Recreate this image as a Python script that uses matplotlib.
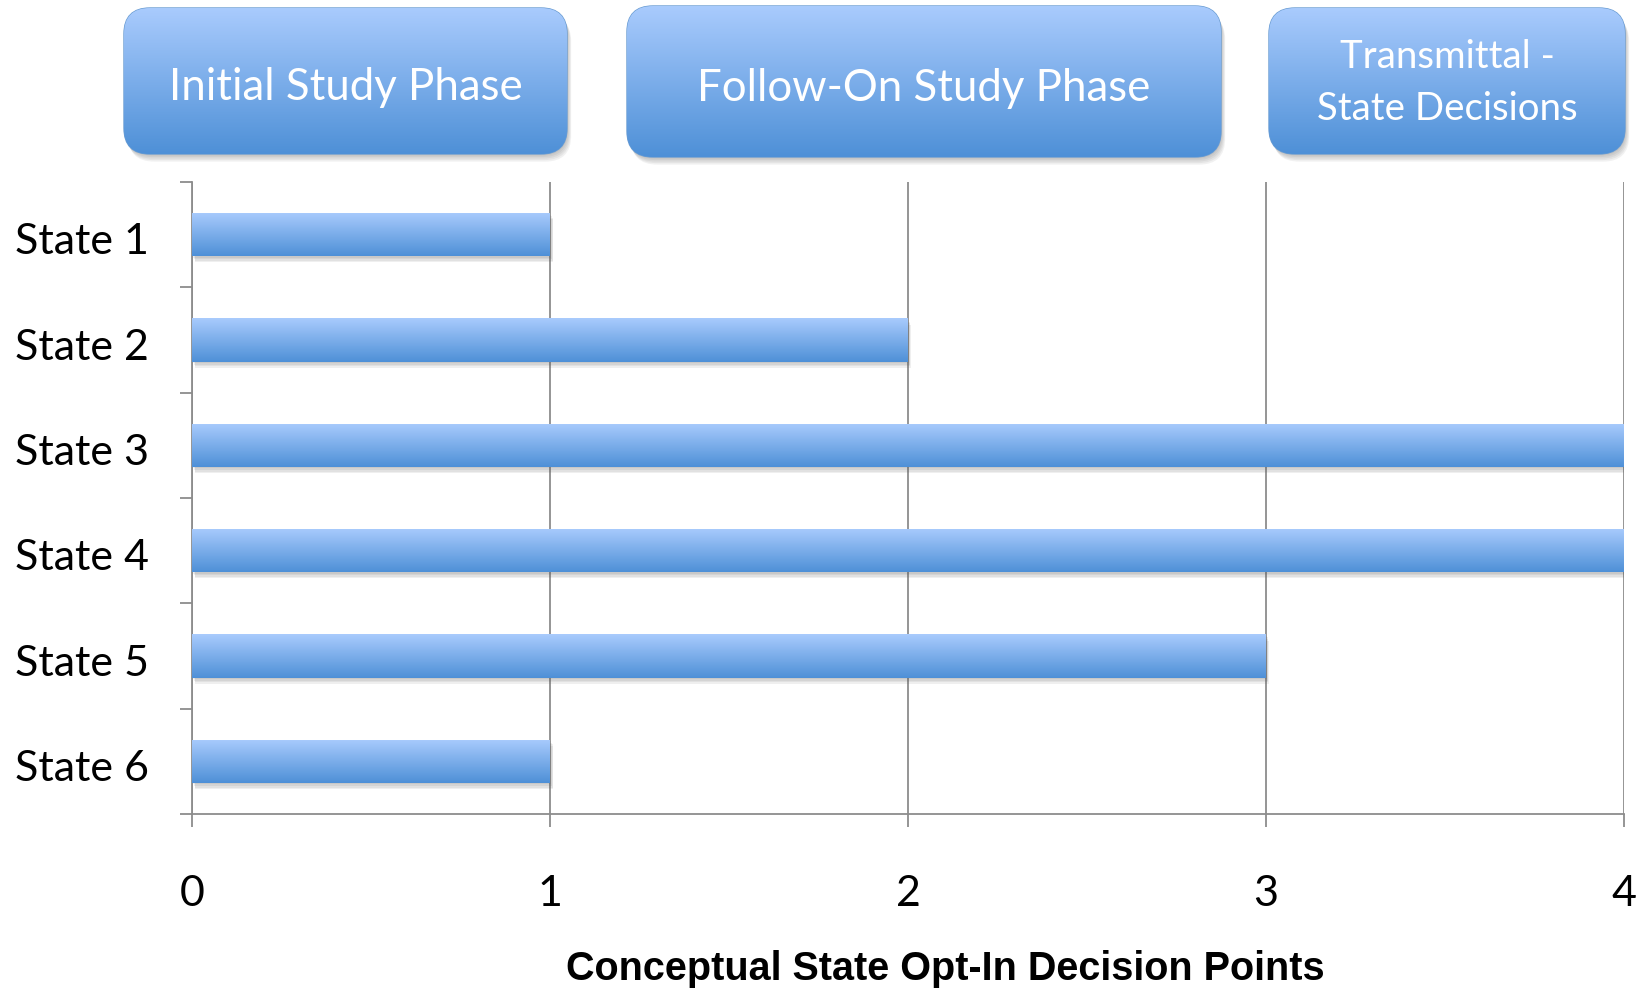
import numpy as np
import matplotlib.pyplot as plt
from matplotlib.colors import LinearSegmentedColormap
from matplotlib.patches import FancyBboxPatch
from matplotlib.transforms import ScaledTranslation
import matplotlib.patheffects as pe

# data
states = ["State 1", "State 2", "State 3", "State 4", "State 5", "State 6"]
decision_points = [1, 2, 4, 4, 3, 1]
x_ticks = [0, 1, 2, 3, 4]
x_label = "Conceptual State Opt-In Decision Points"
phases = ["Initial Study Phase", "Follow-On Study Phase", "Transmittal -\nState Decisions"]

# dark -> light
blues = LinearSegmentedColormap.from_list("blues", ["#4e90d7", "#a9cbfd"])
grad = np.linspace(1, 0, 256).reshape(-1, 1)


def soft_shadow(n, alpha):
    # a few stacked shadows give a blurred look
    effects = [pe.SimplePatchShadow(offset=(0.6 * k, -1.1 * k), shadow_rgbFace="#555555", alpha=alpha)
               for k in range(n, 0, -1)]
    return effects + [pe.Normal()]


fig = plt.figure(figsize=(16.44, 9.91), dpi=100)
ax = fig.add_axes([0.1168, 0.1786, 0.8710, 0.6377])

y = np.arange(len(states))
bh = 0.41
bars = ax.barh(y, decision_points, height=bh, color="#7aaee8", linewidth=0, zorder=3)
for b in bars:
    b.set_path_effects(soft_shadow(4, 0.09))
    x0, y0 = b.get_x(), b.get_y()
    im = ax.imshow(grad, cmap=blues, vmin=0, vmax=1, aspect="auto", origin="upper",
                   extent=(x0, x0 + b.get_width(), y0 + bh, y0), zorder=4,
                   interpolation="bilinear")
    im.set_clip_path(b)

ax.set_xlim(0, 4)
ax.set_ylim(len(states) - 0.5, -0.5)
ax.set_yticks(y)
ax.set_yticklabels(states)
ax.set_yticks(np.arange(len(states) + 1) - 0.5, minor=True)
ax.set_xticks(x_ticks)
ax.grid(axis="x", color="#8c8c8c", linewidth=1.3, zorder=1)
for s in ["top", "right"]:
    ax.spines[s].set_visible(False)
for s in ["left", "bottom"]:
    ax.spines[s].set_color("#8c8c8c")
    ax.spines[s].set_linewidth(1.3)

ax.tick_params(axis="y", which="major", length=0, pad=31, labelsize=31)
ax.tick_params(axis="y", which="minor", length=9, width=1.3, color="#8c8c8c")
ax.tick_params(axis="x", length=9, width=1.3, color="#8c8c8c", pad=35, labelsize=31)
for t in ax.get_xticklabels() + ax.get_yticklabels():
    t.set_family(["Lato", "DejaVu Sans"])
down = ScaledTranslation(0, -0.04, fig.dpi_scale_trans)
for t in ax.get_yticklabels():
    t.set_transform(t.get_transform() + down)
ax.set_xlabel(x_label, family=["Liberation Sans Narrow", "Liberation Sans", "DejaVu Sans"],
              fontweight="bold", fontsize=28.5)
ax.xaxis.set_label_coords(0.526, -0.215)

# phase boxes on top, pixel coordinates
ov = fig.add_axes([0, 0, 1, 1])
ov.set_xlim(0, 1644)
ov.set_ylim(991, 0)
ov.axis("off")
box_pos = [(124, 8, 443, 146), (627, 6, 594, 151), (1269, 8, 356, 146)]
text_size = [31.5, 31.5, 27.6]
text_dy = [7, 7, 2]
for (bx, by, bw, bhh), label, fs, dy in zip(box_pos, phases, text_size, text_dy):
    p = FancyBboxPatch((bx, by), bw, bhh, boxstyle="round,pad=0,rounding_size=26",
                       facecolor="#7aaee8", edgecolor="#6b9dd2", linewidth=1.0, zorder=2)
    p.set_path_effects(soft_shadow(5, 0.08))
    ov.add_patch(p)
    im = ov.imshow(grad, cmap=blues, vmin=0, vmax=1, aspect="auto", origin="upper",
                   extent=(bx, bx + bw, by + bhh, by), zorder=3, interpolation="bilinear")
    im.set_clip_path(p)
    ov.text(bx + bw / 2, by + bhh / 2 + dy, label, color="white", ha="center", va="center",
            fontsize=fs, family=["Lato", "DejaVu Sans"], linespacing=1.52, zorder=4)
ov.set_xlim(0, 1644)
ov.set_ylim(991, 0)

fig.savefig("out.png", dpi=100)
